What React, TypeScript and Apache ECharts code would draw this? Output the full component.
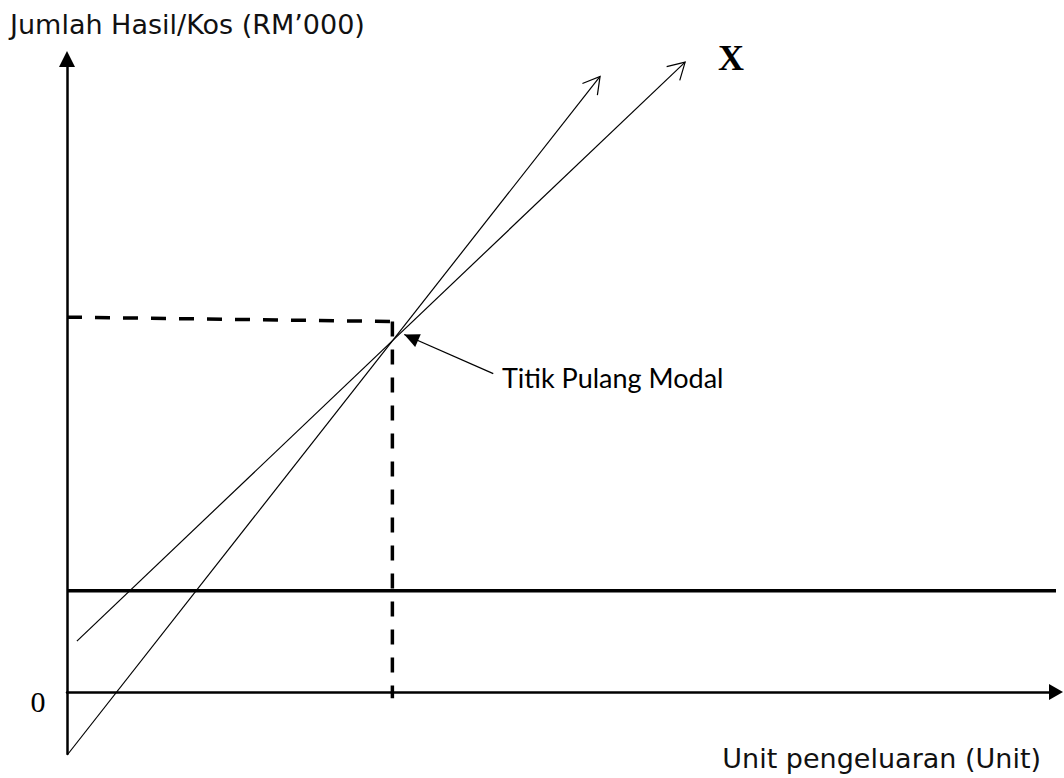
import React, { useEffect, useRef } from "react";
import * as echarts from "echarts";

// ---- data (chart units) ----
const X_MIN = 0;
const X_MAX = 100;
const Y_MIN = -10;
const Y_MAX = 102;

const FIXED_COST = 16.3;
const fixedCostLine = [
  [0, FIXED_COST],
  [100, FIXED_COST],
];
const totalCostLine = [
  [1.0, 8.2],
  [62.5, 101.5],
];
const revenueLine = [
  [0.1, -10.0],
  [53.9, 99.2],
];
const breakEvenH = [
  [0, 60.4],
  [32.9, 59.7],
];
const breakEvenV = [
  [32.9, 59.7],
  [32.9, -1.0],
];
const pointerLine = [
  [43.1, 51.3],
  [34.1, 57.6],
];

const Y_TITLE = "Jumlah Hasil/Kos (RM\u2019000)";
const X_TITLE = "Unit pengeluaran (Unit)";
const BE_LABEL = "Titik Pulang Modal";
const LINE_LABEL = "X";
const ZERO_LABEL = "0";

// arrowheads: 0 = open arrow, 1 = filled triangle
const arrowHeads = [
  [...totalCostLine[0], ...totalCostLine[1], 0],
  [...revenueLine[0], ...revenueLine[1], 0],
  [...pointerLine[0], ...pointerLine[1], 1],
];

export default function App() {
  const ref = useRef<HTMLDivElement>(null);

  useEffect(() => {
    if (!ref.current) return;
    const chart = echarts.init(ref.current, null, { renderer: "svg" });
    const black = "#000";
    const thin = { color: black, width: 1.2 };

    const option: any = {
      animation: false,
      backgroundColor: "#fff",
      grid: { left: 67, right: 8, top: 59, bottom: 24 },
      xAxis: {
        type: "value",
        min: X_MIN,
        max: X_MAX,
        axisLine: {
          show: true,
          onZero: true,
          symbol: ["none", "triangle"],
          symbolSize: [16, 14],
          lineStyle: { color: black, width: 2.5 },
        },
        axisTick: { show: false },
        axisLabel: { show: false },
        splitLine: { show: false },
      },
      yAxis: {
        type: "value",
        min: Y_MIN,
        max: Y_MAX,
        axisLine: {
          show: true,
          onZero: true,
          symbol: ["none", "triangle"],
          symbolSize: [16, 16],
          lineStyle: { color: black, width: 2.5 },
        },
        axisTick: { show: false },
        axisLabel: { show: false },
        splitLine: { show: false },
      },
      series: [
        {
          type: "line",
          name: "Kos Tetap",
          data: fixedCostLine,
          symbol: "none",
          lineStyle: { color: black, width: 3.5 },
          z: 3,
        },
        {
          type: "line",
          name: "Jumlah Kos",
          data: totalCostLine,
          symbol: "none",
          lineStyle: thin,
          z: 4,
        },
        {
          type: "line",
          name: "Jumlah Hasil",
          data: revenueLine,
          symbol: "none",
          lineStyle: thin,
          z: 4,
        },
        {
          type: "line",
          data: breakEvenH,
          symbol: "none",
          lineStyle: { color: black, width: 3.5, type: [15, 13] },
          z: 2,
        },
        {
          type: "line",
          data: breakEvenV,
          symbol: "none",
          lineStyle: { color: black, width: 3.5, type: [15, 13] },
          z: 2,
        },
        {
          type: "line",
          data: pointerLine,
          symbol: "none",
          lineStyle: thin,
          z: 4,
        },
        {
          type: "custom",
          clip: false,
          z: 5,
          data: arrowHeads,
          encode: { x: [0, 2], y: [1, 3] },
          renderItem: (params: any, api: any) => {
            const p1 = api.coord([api.value(0), api.value(1)]);
            const p2 = api.coord([api.value(2), api.value(3)]);
            const kind = api.value(4);
            const dx = p2[0] - p1[0];
            const dy = p2[1] - p1[1];
            const len = Math.hypot(dx, dy) || 1;
            const ux = dx / len;
            const uy = dy / len;
            const nx = -uy;
            const ny = ux;
            if (kind === 0) {
              const L = 19;
              const back = L * Math.cos(Math.PI / 6);
              const side = L * Math.sin(Math.PI / 6);
              const bx = p2[0] - ux * back;
              const by = p2[1] - uy * back;
              return {
                type: "polyline",
                shape: {
                  points: [
                    [bx + nx * side, by + ny * side],
                    [p2[0], p2[1]],
                    [bx - nx * side, by - ny * side],
                  ],
                },
                style: { stroke: black, lineWidth: 1.2, fill: "none" },
              };
            }
            const L = 15;
            const side = 7;
            const bx = p2[0] - ux * L;
            const by = p2[1] - uy * L;
            return {
              type: "polygon",
              shape: {
                points: [
                  [p2[0], p2[1]],
                  [bx + nx * side, by + ny * side],
                  [bx - nx * side, by - ny * side],
                ],
              },
              style: { fill: black },
            };
          },
        },
      ],
      graphic: [
        {
          type: "text",
          x: 10,
          y: 11,
          style: {
            text: Y_TITLE,
            font: '27px "DejaVu Sans"',
            fill: "#111",
          },
        },
        {
          type: "text",
          x: 1041,
          y: 745,
          style: {
            text: X_TITLE,
            font: '27px "DejaVu Sans"',
            fill: "#111",
            align: "right",
          },
        },
        {
          type: "text",
          x: 502,
          y: 364,
          style: {
            text: BE_LABEL,
            font: '27px Lato',
            fill: "#000",
          },
        },
        {
          type: "text",
          x: 731,
          y: 40,
          style: {
            text: LINE_LABEL,
            font: 'bold 36px "Liberation Serif"',
            fill: "#000",
            align: "center",
          },
        },
        {
          type: "text",
          x: 38,
          y: 686,
          style: {
            text: ZERO_LABEL,
            font: '30px "Liberation Serif"',
            fill: "#000",
            align: "center",
          },
        },
      ],
    };
    chart.setOption(option);
    return () => chart.dispose();
  }, []);

  return (
    <div
      ref={ref}
      style={{ position: "absolute", left: 0, top: 0, width: 1064, height: 778, background: "#fff" }}
    />
  );
}
